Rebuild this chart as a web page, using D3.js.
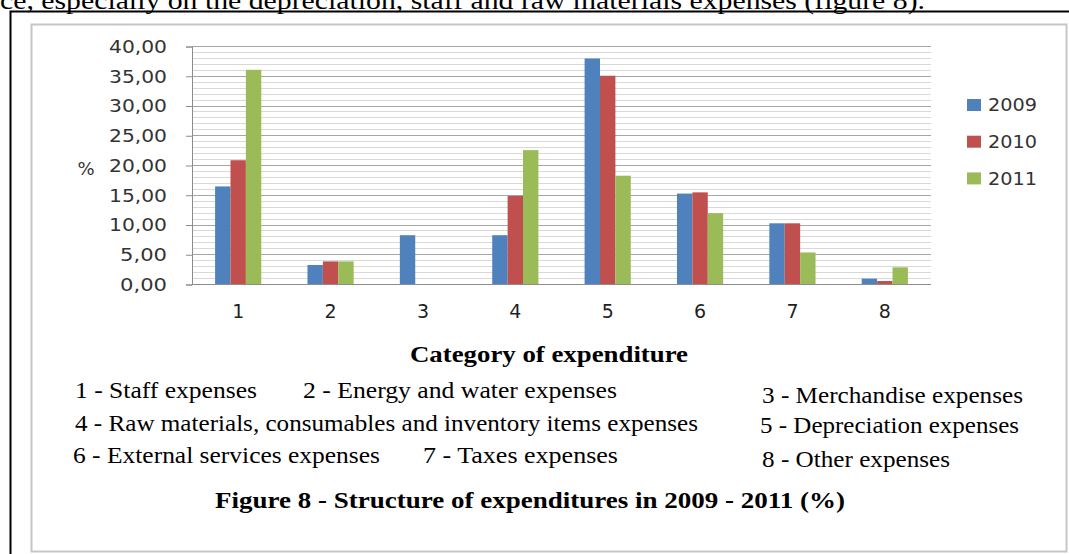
<!DOCTYPE html>
<html>
<head>
<meta charset="utf-8">
<script src="https://cdn.jsdelivr.net/npm/d3@7"></script>
<style>
  html, body { margin: 0; padding: 0; background: #fff; overflow: hidden; }
  svg { display: block; }
</style>
</head>
<body>
<div id="figure"></div>
<script>
// data
var categories = ["1", "2", "3", "4", "5", "6", "7", "8"];
var years = ["2009", "2010", "2011"];
var values2009 = [16.4, 3.2, 8.2, 8.2, 37.9, 15.2, 10.2, 0.9];
var values2010 = [20.8, 3.8, 0, 14.8, 35.0, 15.4, 10.2, 0.5];
var values2011 = [36.0, 3.8, 0, 22.5, 18.2, 11.9, 5.3, 2.8];
var yTicks = [0, 5, 10, 15, 20, 25, 30, 35, 40];
var colors = ["#4f81bd", "#c0504d", "#9bbb59"];

var topText = "ce, especially on the depreciation, staff and raw materials expenses (figure 8).";
var axisTitle = "Category of expenditure";
var notes = [
    "1 - Staff expenses",
    "2 - Energy and water expenses",
    "3 - Merchandise expenses",
    "4 - Raw materials, consumables and inventory items expenses",
    "5 - Depreciation expenses",
    "6 - External services expenses",
    "7 - Taxes expenses",
    "8 - Other expenses"
];
var caption = "Figure 8 - Structure of expenditures in 2009 - 2011 (%)";

var serif = "'Liberation Serif', 'Times New Roman', Times, serif";
var sans = "'DejaVu Sans', Verdana, sans-serif";

var width = 1069;
var height = 554;

var series = [values2009, values2010, values2011];
var table = categories.map(function (c, i) {
    return { cat: c, vals: years.map(function (y, j) { return { year: y, v: series[j][i] } }) }
});

var svg = d3.select('#figure')
    .append("svg")
    .attr("width", width)
    .attr("height", height)

// page text above the frame (cut by the top edge, as in the scan)
svg.append("text")
    .style("font-family", serif)
    .attr("x", 0)
    .attr("y", 9)
    .attr("font-size", 26)
    .attr("textLength", 925)
    .attr("lengthAdjust", "spacingAndGlyphs")
    .text(topText)

// black page box
svg.append("path")
    .attr("d", "M10.5," + height + "V11.5H" + width)
    .attr("fill", "none")
    .attr("stroke", "#000")
    .attr("stroke-width", 2)

// grey chart frame
svg.append("rect")
    .attr("x", 31.5)
    .attr("y", 24.5)
    .attr("width", 1035)
    .attr("height", 527)
    .attr("fill", "#fff")
    .attr("stroke", "#c6c6c6")
    .attr("stroke-width", 2)

var plot = { left: 192, right: 931, top: 46, bottom: 284 };

var x = d3.scaleBand()
    .domain(categories)
    .range([plot.left, plot.right])
    .paddingInner(0.5)
    .paddingOuter(0.25);

var xs = d3.scaleBand()
    .domain(years)
    .range([0, x.bandwidth()]);

var y = d3.scaleLinear()
    .domain([0, 40])
    .range([plot.bottom, plot.top]);

// minor and major grid
svg.append("g")
    .selectAll("line")
    .data(d3.range(1, 40).filter(function (d) { return d % 5 != 0 }))
    .enter()
    .append("line")
    .attr("x1", plot.left)
    .attr("x2", plot.right)
    .attr("y1", function (d) { return Math.round(y(d)) + 0.5 })
    .attr("y2", function (d) { return Math.round(y(d)) + 0.5 })
    .attr("stroke", "#d9d9d9")

svg.append("g")
    .selectAll("line")
    .data(yTicks.slice(1))
    .enter()
    .append("line")
    .attr("x1", plot.left)
    .attr("x2", plot.right)
    .attr("y1", function (d) { return Math.round(y(d)) + 0.5 })
    .attr("y2", function (d) { return Math.round(y(d)) + 0.5 })
    .attr("stroke", "#a6a6a6")

// y axis
var yAxis = svg.append("g")
    .attr("transform", "translate(" + plot.left + ",0.5)")
    .call(d3.axisLeft(y)
        .tickValues(yTicks)
        .tickSize(6)
        .tickPadding(19)
        .tickFormat(function (d) { return d3.format(".2f")(d).replace(".", ",") }))
yAxis.select(".domain").attr("stroke", "#8c8c8c")
yAxis.selectAll(".tick line").attr("stroke", "#8c8c8c")
yAxis.selectAll(".tick text")
    .style("font-family", sans)
    .attr("font-size", 18)
    .attr("fill", "#333")
    .attr("textLength", function (d) { return d < 10 ? 47 : 58 })
    .attr("lengthAdjust", "spacingAndGlyphs")

svg.append("text")
    .style("font-family", sans)
    .attr("x", 86)
    .attr("y", 169)
    .attr("dy", "0.35em")
    .attr("text-anchor", "middle")
    .attr("font-size", 18)
    .attr("fill", "#333")
    .text("%")

// bars
svg.append("g")
    .selectAll("g")
    .data(table)
    .enter()
    .append("g")
    .attr("transform", function (d) { return "translate(" + x(d.cat) + ",0)" })
    .selectAll("rect")
    .data(function (d) { return d.vals })
    .enter()
    .append("rect")
    .attr("x", function (d) { return xs(d.year) })
    .attr("y", function (d) { return y(d.v) })
    .attr("width", xs.bandwidth())
    .attr("height", function (d) { return y(0) - y(d.v) })
    .attr("fill", function (d, i) { return colors[i] })

// x axis
var xAxis = svg.append("g")
    .attr("transform", "translate(0," + (plot.bottom + 0.5) + ")")
    .call(d3.axisBottom(x).tickSize(0).tickPadding(20))
xAxis.select(".domain").attr("stroke", "#8c8c8c").attr("d", "M" + plot.left + ",0H" + plot.right)
xAxis.selectAll(".tick text")
    .style("font-family", sans)
    .attr("font-size", 19)
    .attr("fill", "#1f1f1f")

// legend
var legend = svg.append("g")
    .selectAll("g")
    .data(years)
    .enter()
    .append("g")
    .attr("transform", function (d, i) { return "translate(967," + (105 + i * 36.7) + ")" })
legend.append("rect")
    .attr("x", 0)
    .attr("y", -6)
    .attr("width", 14)
    .attr("height", 12)
    .attr("fill", function (d, i) { return colors[i] })
legend.append("text")
    .style("font-family", sans)
    .attr("x", 21)
    .attr("dy", "0.36em")
    .attr("font-size", 17)
    .attr("fill", "#333")
    .attr("textLength", 49)
    .attr("lengthAdjust", "spacingAndGlyphs")
    .text(function (d) { return d })

// axis title and notes
svg.append("text")
    .style("font-family", serif)
    .attr("x", 410)
    .attr("y", 362)
    .attr("font-weight", "bold")
    .attr("font-size", 23)
    .attr("textLength", 278)
    .attr("lengthAdjust", "spacingAndGlyphs")
    .text(axisTitle)

var notePos = [
    [75, 398, 182], [303, 398, 314], [762, 403, 261],
    [75, 431, 623], [760, 433, 259],
    [73, 463, 307], [423, 463, 195], [762, 467, 188]
];
svg.append("g")
    .selectAll("text")
    .data(notes)
    .enter()
    .append("text")
    .style("font-family", serif)
    .attr("x", function (d, i) { return notePos[i][0] })
    .attr("y", function (d, i) { return notePos[i][1] })
    .attr("font-size", 23)
    .attr("textLength", function (d, i) { return notePos[i][2] })
    .attr("lengthAdjust", "spacingAndGlyphs")
    .text(function (d) { return d })

svg.append("text")
    .style("font-family", serif)
    .attr("x", 215)
    .attr("y", 508)
    .attr("font-weight", "bold")
    .attr("font-size", 24)
    .attr("textLength", 630)
    .attr("lengthAdjust", "spacingAndGlyphs")
    .text(caption)
</script>
</body>
</html>
